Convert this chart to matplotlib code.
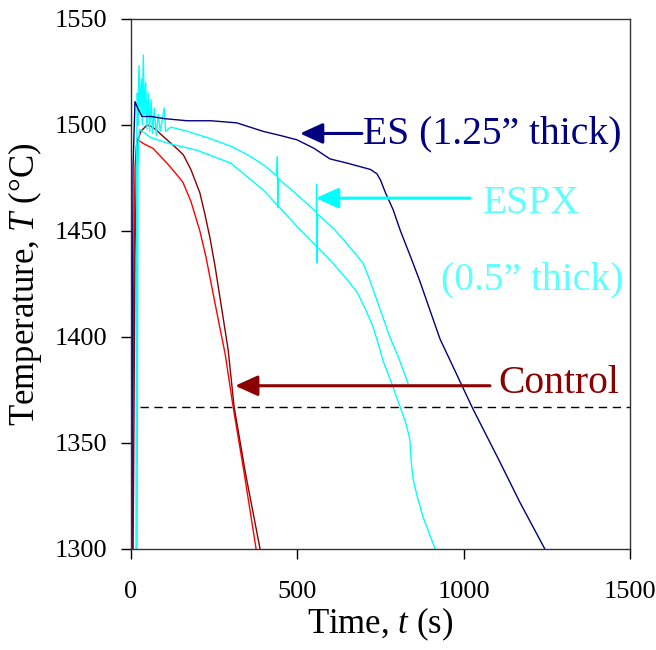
import numpy as np
import matplotlib
matplotlib.use("Agg")
import matplotlib.pyplot as plt

plt.rcParams['font.family'] = ['Liberation Serif', 'DejaVu Serif']
plt.rcParams['mathtext.fontset'] = 'custom'
plt.rcParams['mathtext.it'] = 'Liberation Serif:italic'
plt.rcParams['mathtext.rm'] = 'Liberation Serif'

# Control (red)
ctrl_a_t = [3, 8, 12, 16, 20, 40, 66, 90, 108, 130, 156, 180, 207, 225, 245, 265,
            283, 307, 340, 376]
ctrl_a_T = [1290, 1420, 1480, 1490, 1493, 1491, 1489, 1485, 1482, 1478, 1473, 1464,
            1450, 1438, 1422, 1406, 1392, 1367, 1336, 1300]

# Control (dark red)
ctrl_b_t = [6, 12, 18, 30, 48, 65, 80, 108, 130, 157, 180, 207, 222, 237, 252, 265,
            280, 292, 310, 345, 388]
ctrl_b_T = [1290, 1440, 1492, 1497, 1500, 1499, 1497, 1493, 1490, 1486, 1479, 1468,
            1458, 1447, 1434, 1421, 1406, 1394, 1367, 1335, 1300]

# ES, 1.25" thick (navy)
es_t = [2, 6, 12, 20, 33, 60, 100, 168, 240, 318, 397, 450, 499, 550, 598, 650, 697,
        720, 739, 750, 765, 788, 810, 840, 869, 900, 929, 965, 998, 1028, 1109, 1169, 1244]
es_T = [1290, 1480, 1511, 1508, 1504, 1504, 1503, 1502, 1502, 1501, 1497, 1495, 1493,
        1489, 1484, 1482, 1480, 1479, 1477, 1474, 1468, 1460, 1450, 1438, 1426, 1412,
        1399, 1387, 1376, 1366, 1341, 1322, 1300]

# ESPX, 0.5" thick (cyan, two runs)
espx_a_t = [15, 17, 19, 21, 24, 27, 31, 34, 37, 40, 44, 48, 52, 56, 60, 65, 70, 76,
            82, 88, 100, 104, 120, 170, 230, 300, 350, 400, 438, 440, 441, 443, 448,
            500, 557, 558, 559, 561, 568, 610, 649, 697, 715, 740, 778, 805, 833]
espx_a_T = [1290, 1490, 1515, 1500, 1528, 1505, 1522, 1500, 1533, 1505, 1520, 1498,
            1515, 1497, 1512, 1496, 1508, 1495, 1505, 1497, 1508, 1497, 1499, 1497,
            1494, 1490, 1486, 1481, 1476, 1485, 1461, 1475, 1474, 1467, 1459, 1472,
            1435, 1458, 1457, 1451, 1444, 1435, 1428, 1417, 1400, 1390, 1378]

espx_b_t = [18, 21, 25, 60, 120, 200, 300, 400, 500, 600, 650, 680, 705, 727, 745,
            757, 784, 809, 825, 838, 843, 848, 860, 878, 895, 914]
espx_b_T = [1290, 1480, 1498, 1494, 1491, 1488, 1482, 1469, 1452, 1436, 1427, 1421,
            1413, 1405, 1396, 1389, 1378, 1367, 1360, 1352, 1340, 1333, 1325, 1315,
            1308, 1300]

limit_T = 1367
limit_t = [27, 1500]

navy = '#000080'
cyan = '#00FFFF'
light_cyan = '#5FFFFF'
red = '#FF0000'
dred = '#8B0000'

fig = plt.figure(figsize=(6.56, 6.5), dpi=100)
ax = fig.add_axes([0.1997, 0.1554, 0.7607, 0.8154])

ax.plot(ctrl_a_t, ctrl_a_T, color=red, lw=1.0)
ax.plot(ctrl_b_t, ctrl_b_T, color=dred, lw=1.0)
ax.plot(espx_b_t, espx_b_T, color=cyan, lw=1.0)
ax.plot(espx_a_t, espx_a_T, color=cyan, lw=1.0)
ax.plot(es_t, es_T, color=navy, lw=1.0)
ax.plot(limit_t, [limit_T, limit_T], color='black', lw=1.0, ls=(0, (6, 4)))

arrow = dict(arrowstyle='-|>,head_length=0.55,head_width=0.25', lw=2.2,
             mutation_scale=25, shrinkA=0, shrinkB=0)

ax.annotate('', xy=(508, 1496), xytext=(694, 1496),
            arrowprops=dict(arrow, color=navy))
ax.text(697, 1496, 'ES (1.25\u201d thick)', color=navy, fontsize=28.5,
        ha='left', va='center')

ax.annotate('', xy=(556, 1465.5), xytext=(1019, 1465.5),
            arrowprops=dict(arrow, color=cyan))
ax.text(1202, 1463, 'ESPX', color=light_cyan, fontsize=28.5, ha='center', va='center')
ax.text(1205, 1427, '(0.5\u201d thick)', color=light_cyan, fontsize=28.5,
        ha='center', va='center')

ax.annotate('', xy=(313, 1377), xytext=(1079, 1377),
            arrowprops=dict(arrow, color=dred))
ax.text(1103, 1378, 'Control', color=dred, fontsize=28.5, ha='left', va='center')

ax.set_xlim(0, 1500)
ax.set_ylim(1300, 1550)
ax.set_xticks([0, 500, 1000, 1500])
ax.set_yticks([1300, 1350, 1400, 1450, 1500, 1550])
ax.tick_params(direction='out', length=7, width=1, labelsize=19)
ax.tick_params(axis='x', pad=16)
ax.tick_params(axis='y', pad=10)
for s in ax.spines.values():
    s.set_linewidth(1.0)
    s.set_color('#333333')

ax.set_xlabel('Time, $t$ (s)', fontsize=25, labelpad=2)
ax.set_ylabel('Temperature, $T$ (\u00b0C)', fontsize=25, labelpad=8)

fig.savefig('out.png', dpi=100)
